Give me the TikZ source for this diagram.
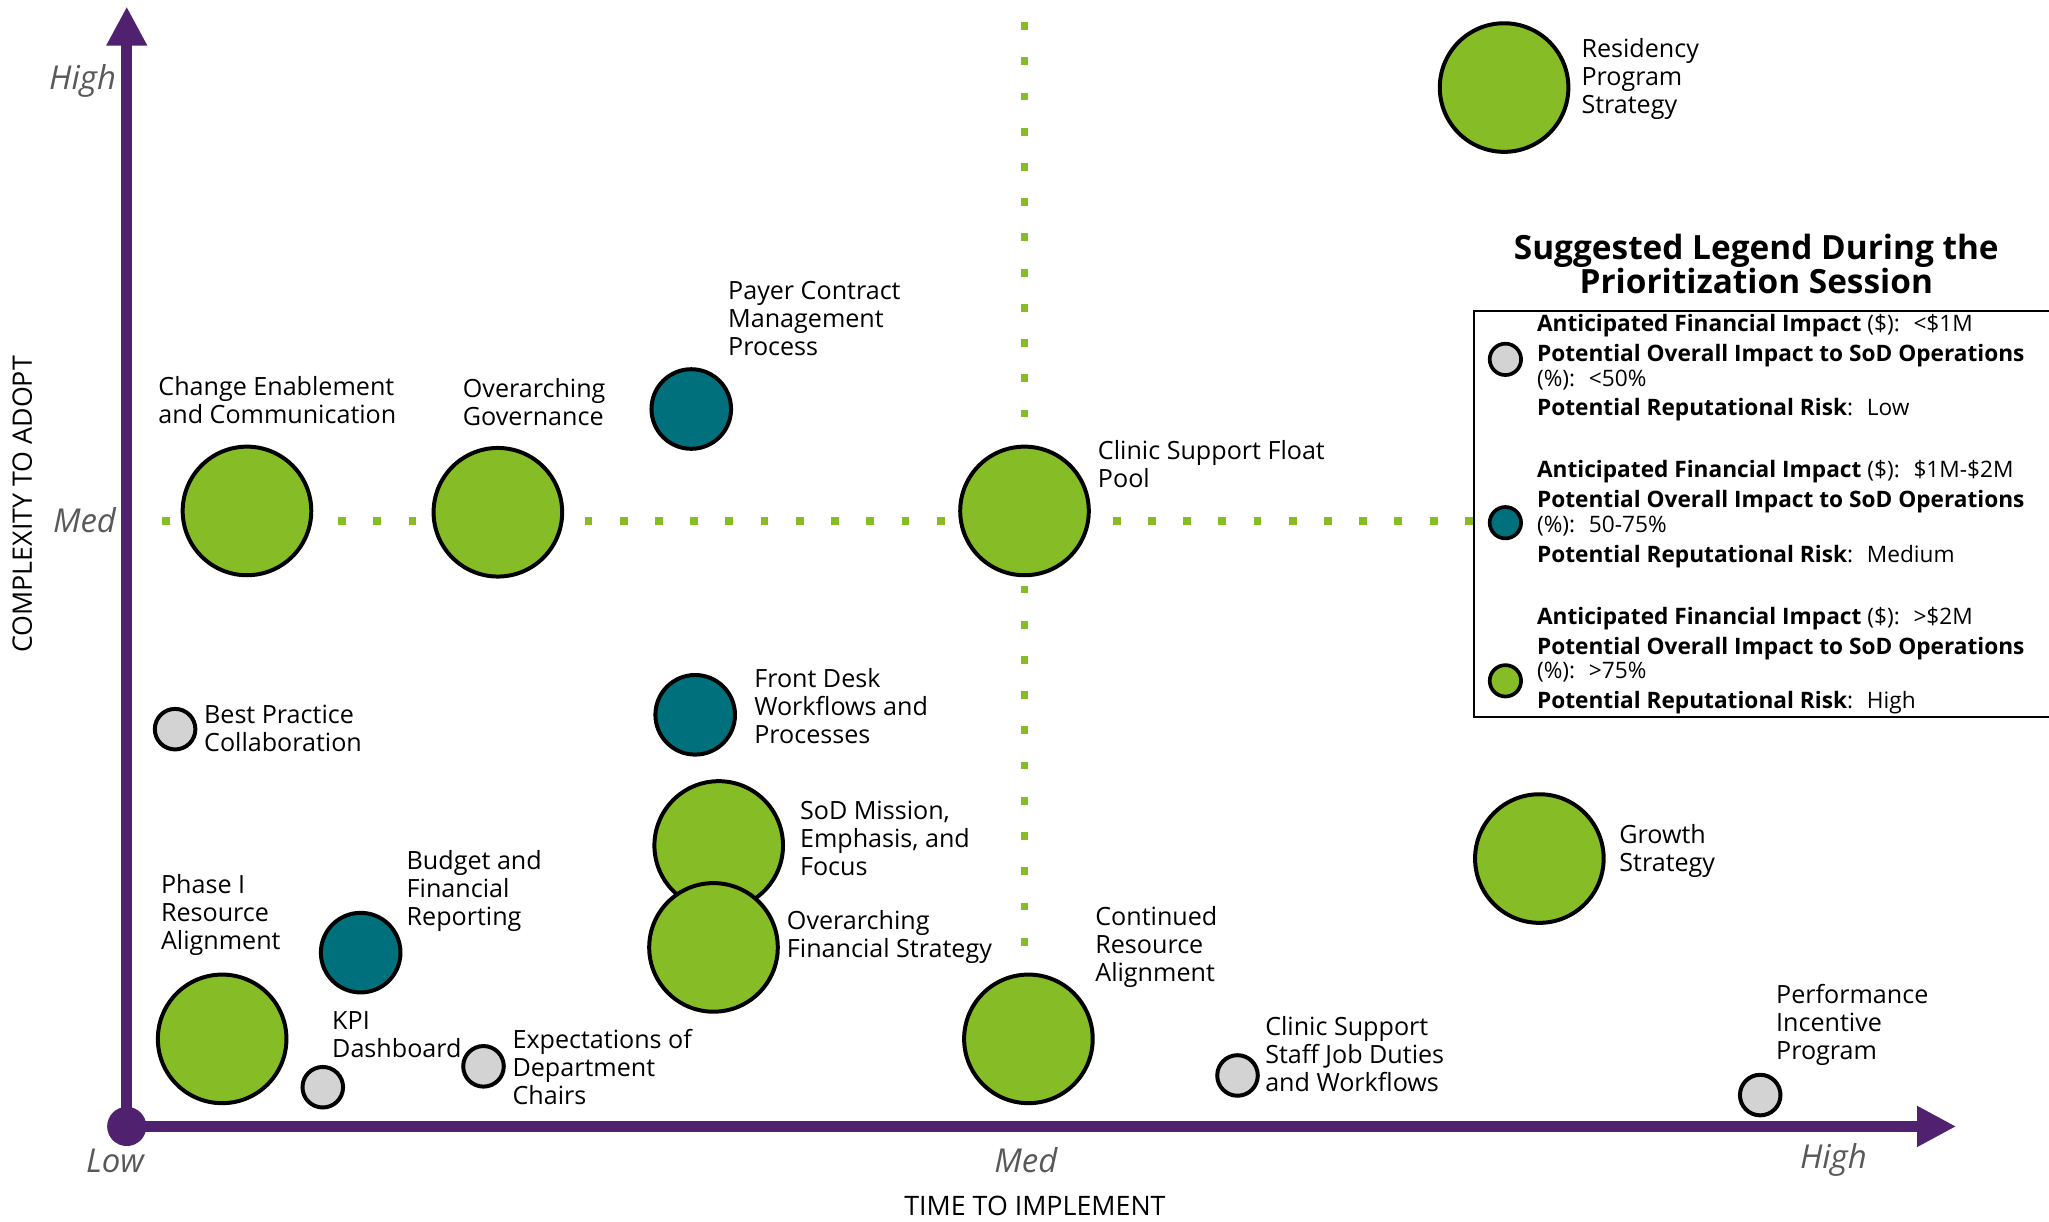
\documentclass[tikz,border=0pt]{standalone}
\usepackage{fontspec}
\setmainfont{Open Sans}
\usepackage{xcolor}
\usetikzlibrary{arrows.meta}

\definecolor{sodgreen}{HTML}{86BC25}
\definecolor{sodteal}{HTML}{00707C}
\definecolor{sodgrey}{HTML}{D3D3D3}
\definecolor{sodpurple}{HTML}{4F216E}
\definecolor{axisgrey}{HTML}{595959}

\begin{document}
\begin{tikzpicture}[x=0.03cm, y=-0.03cm,
    axis/.style={draw=sodpurple, line width=7pt, -{Triangle[length=25.6pt, width=25pt]}},
    grid/.style={draw=sodgreen, line width=5.1pt, dash pattern=on 5.1pt off 17.9pt},
    bubble/.style={circle, draw=black, line width=2.6pt, inner sep=0pt},
    big/.style={bubble, fill=sodgreen, minimum size=84pt},
    mid/.style={bubble, fill=sodteal, minimum size=52pt},
    small/.style={bubble, fill=sodgrey, minimum size=26.5pt},
    key/.style={bubble, line width=2.4pt, minimum size=20.5pt},
    lbl/.style={anchor=west, align=left, inner sep=0pt, font=\fontsize{16.4}{18.3}\selectfont},
    tick/.style={inner sep=0pt, text=axisgrey, font=\fontsize{21.5}{24}\selectfont\itshape},
    title/.style={inner sep=0pt, font=\fontsize{17.5}{20}\selectfont},
    legend/.style={anchor=west, align=left, inner sep=0pt, font=\fontsize{14.8}{16.2}\selectfont}]

    \useasboundingbox (0, 0) rectangle (1568, 935);

    \coordinate (o) at (97, 862);
    \coordinate (yt) at (97, 5);
    \coordinate (xt) at (1497, 862);
    \coordinate (h1) at (124, 399);
    \coordinate (h2) at (1128, 399);
    \coordinate (v1) at (784, 17);
    \coordinate (v2) at (784, 727);

    \draw [grid] (h1) -- (h2);
    \draw [grid] (v1) -- (v2);
    \draw [axis] (o) -- (yt);
    \draw [axis] (o) -- (xt);
    \fill [sodpurple] (o) circle (12.8pt);

    \node [tick, anchor=east] (yh) at (89, 62) {High};
    \node [tick, anchor=east] (ym) at (89, 398) {Med};
    \node [tick] (xl) at (88, 888) {Low};
    \node [tick] (xm) at (785, 888) {Med};
    \node [tick] (xh) at (1403, 888) {High};
    \node [title, rotate=90] (yl) at (17, 386) {COMPLEXITY TO ADOPT};
    \node [title] (xlab) at (792, 923) {TIME TO IMPLEMENT};

    \node [big] (res) at (1151, 67) {};
    \node [big] (chg) at (189, 391) {};
    \node [big] (gov) at (381, 392) {};
    \node [big] (flt) at (784, 391) {};
    \node [big] (sod) at (550, 647) {};
    \node [big] (fin) at (546, 725) {};
    \node [big] (grw) at (1178, 657) {};
    \node [big] (ph1) at (170, 795) {};
    \node [big] (con) at (787, 795) {};
    \node [mid] (pay) at (529, 313) {};
    \node [mid] (fdk) at (532, 547) {};
    \node [mid] (bud) at (276, 729) {};
    \node [small] (bst) at (134, 558) {};
    \node [small] (kpi) at (247, 832) {};
    \node [small] (exp) at (370, 816) {};
    \node [small] (stf) at (947, 823) {};
    \node [small] (prf) at (1347, 838) {};

    \node [lbl] (a) at (1210, 60.5) {Residency\\Program\\Strategy};
    \node [lbl] (b) at (121, 306.5) {Change Enablement\\and Communication};
    \node [lbl] (c) at (354, 307.5) {Overarching\\Governance};
    \node [lbl] (d) at (557, 243.5) {Payer Contract\\Management\\Process};
    \node [lbl] (e) at (840, 355.5) {Clinic Support Float\\Pool};
    \node [lbl] (f) at (156, 557.5) {Best Practice\\Collaboration};
    \node [lbl] (g) at (577, 540.5) {Front Desk\\Workflows and\\Processes};
    \node [lbl] (h) at (612, 641.5) {SoD Mission,\\Emphasis, and\\Focus};
    \node [lbl] (i) at (123, 700.5) {Phase I\\Resource\\Alignment};
    \node [lbl] (j) at (311, 682) {Budget and\\Financial\\Reporting};
    \node [lbl] (k) at (602, 717) {Overarching\\Financial Strategy};
    \node [lbl] (l) at (838, 724.5) {Continued\\Resource\\Alignment};
    \node [lbl] (m) at (1239, 651.5) {Growth\\Strategy};
    \node [lbl] (n) at (254, 792) {KPI\\Dashboard};
    \node [lbl] (p) at (392, 816.5) {Expectations of\\Department\\Chairs};
    \node [lbl] (q) at (968, 807) {Clinic Support\\Staff Job Duties\\and Workflows};
    \node [lbl] (r) at (1359, 784.5) {Performance\\Incentive\\Program};

    \node [align=center, inner sep=0pt, font=\fontsize{21.8}{22.2}\selectfont\bfseries] (tt) at (1344, 202)
        {Suggested Legend During the\\Prioritization Session};
    \draw [line width=1.3pt] (1570, 238) -- (1128, 238) -- (1128, 549) -- (1570, 549);

    \node [key, fill=sodgrey] (k1) at (1152, 275) {};
    \node [key, fill=sodteal] (k2) at (1152, 400) {};
    \node [key, fill=sodgreen] (k3) at (1152, 521) {};

    \node [legend] (t1) at (1176, 281.5) {\textbf{Anticipated Financial Impact} (\$): \ <\$1M\\[3.2pt]
        \textbf{Potential Overall Impact to SoD Operations}\\(\%): \ <50\%\\[3.2pt]
        \textbf{Potential Reputational Risk}: \ Low};
    \node [legend] (t2) at (1176, 393.5) {\textbf{Anticipated Financial Impact} (\$): \ \$1M-\$2M\\[3.2pt]
        \textbf{Potential Overall Impact to SoD Operations}\\(\%): \ 50-75\%\\[3.2pt]
        \textbf{Potential Reputational Risk}: \ Medium};
    \node [legend] (t3) at (1176, 505.5) {\textbf{Anticipated Financial Impact} (\$): \ >\$2M\\[3.2pt]
        \textbf{Potential Overall Impact to SoD Operations}\\(\%): \ >75\%\\[3.2pt]
        \textbf{Potential Reputational Risk}: \ High};

\end{tikzpicture}
\end{document}
